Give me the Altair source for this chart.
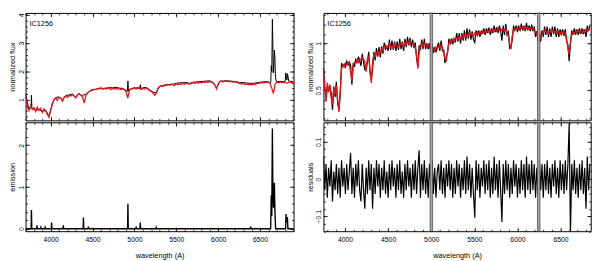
import altair as alt
import pandas as pd

FONT = "Liberation Sans Narrow, Liberation Sans, Arial, sans-serif"
galaxy = "IC1256"

# ---------------- left panels (observed frame) ----------------
left_wave = list(range(3700, 6901, 20))
left_model = [
    1.15, 0.75, 0.62, 0.78, 0.66, 0.72, 0.58, 0.74, 0.62, 0.70,
    0.55, 0.68, 0.60, 0.48, 0.38, 0.62, 0.85, 1.02, 1.05, 0.98,
    1.08, 1.06, 0.95, 1.10, 1.12, 1.08, 1.15, 1.13, 1.18, 1.12,
    1.06, 1.18, 1.20, 1.16, 1.10, 0.88, 1.15, 1.25, 1.28, 1.33,
    1.33, 1.37, 1.35, 1.40, 1.38, 1.42, 1.37, 1.40, 1.38, 1.41,
    1.40, 1.36, 1.40, 1.38, 1.41, 1.37, 1.39, 1.36, 1.38, 1.35,
    1.30, 1.06, 1.32, 1.40, 1.38, 1.42, 1.38, 1.41, 1.39, 1.36,
    1.40, 1.38, 1.42, 1.37, 1.32, 1.30, 1.24, 1.16, 1.22, 1.40,
    1.46, 1.50, 1.47, 1.52, 1.50, 1.54, 1.51, 1.55, 1.52, 1.50,
    1.56, 1.53, 1.57, 1.54, 1.58, 1.55, 1.59, 1.56, 1.55, 1.58,
    1.60, 1.57, 1.61, 1.58, 1.62, 1.60, 1.63, 1.61, 1.64, 1.62,
    1.65, 1.62, 1.58, 1.52, 1.38, 1.55, 1.64, 1.66, 1.63, 1.67,
    1.64, 1.66, 1.63, 1.65, 1.62, 1.64, 1.61, 1.60, 1.57, 1.55,
    1.58, 1.54, 1.56, 1.53, 1.55, 1.52, 1.56, 1.54, 1.57, 1.58,
    1.60, 1.59, 1.61, 1.60, 1.62, 1.61, 1.58, 1.40, 1.22, 1.55,
    1.62, 1.60, 1.63, 1.61, 1.62, 1.60, 1.58, 1.61, 1.63, 1.60,
    1.62,
]

obs_wave = [
    3700, 3740, 3765, 3770, 3775, 3780, 3820, 3860, 3900, 3940,
    3980, 4020, 4060, 4100, 4140, 4180, 4220, 4260, 4300, 4340,
    4380, 4391, 4420, 4460, 4500, 4540, 4580, 4620, 4660, 4700,
    4740, 4780, 4820, 4860, 4900, 4916, 4922, 4928, 4940, 4980,
    5020, 5060, 5065, 5070, 5075, 5100, 5140, 5180, 5220, 5260,
    5300, 5340, 5380, 5420, 5460, 5500, 5540, 5580, 5620, 5660,
    5700, 5740, 5780, 5820, 5860, 5900, 5940, 5980, 6020, 6060,
    6100, 6140, 6180, 6220, 6260, 6300, 6340, 6380, 6420, 6460,
    6500, 6540, 6580, 6620, 6628, 6634, 6640, 6647, 6652, 6658,
    6664, 6671, 6677, 6684, 6692, 6700, 6740, 6780, 6800, 6807,
    6814, 6820, 6828, 6835, 6842, 6860, 6900,
]
obs_flux = [
    1.20, 0.66, 0.72, 1.16, 0.72, 0.70, 0.62, 0.66, 0.58, 0.63,
    0.42, 0.88, 1.08, 1.10, 0.98, 1.15, 1.17, 1.20, 1.09, 1.22,
    1.13, 1.18, 1.17, 1.30, 1.36, 1.37, 1.41, 1.40, 1.41, 1.43,
    1.42, 1.44, 1.41, 1.40, 1.33, 1.30, 1.66, 1.30, 1.35, 1.41,
    1.42, 1.42, 1.40, 1.53, 1.40, 1.42, 1.44, 1.35, 1.27, 1.25,
    1.48, 1.50, 1.53, 1.54, 1.55, 1.58, 1.60, 1.60, 1.61, 1.58,
    1.62, 1.63, 1.64, 1.65, 1.66, 1.67, 1.61, 1.42, 1.66, 1.66,
    1.67, 1.66, 1.65, 1.64, 1.60, 1.61, 1.59, 1.58, 1.58, 1.60,
    1.62, 1.63, 1.64, 1.61, 1.62, 2.20, 2.00, 3.85, 3.10, 1.95,
    2.10, 2.75, 2.50, 1.80, 1.66, 1.64, 1.65, 1.64, 1.65, 1.95,
    1.85, 1.70, 1.92, 1.80, 1.66, 1.65, 1.64,
]

emis_wave = [
    3700, 3766, 3770, 3774, 3832, 3836, 3840, 3879, 3883, 3887,
    3930, 3934, 3938, 4007, 4011, 4015, 4147, 4151, 4155, 4387,
    4391, 4395, 4446, 4450, 4454, 4918, 4922, 4926, 5017, 5021,
    5025, 5066, 5070, 5074, 5256, 5260, 5264, 6385, 6389, 6393,
    6626, 6634, 6640, 6647, 6653, 6660, 6671, 6678, 6686, 6805,
    6810, 6816, 6826, 6833, 6900,
]
emis_flux = [
    0.0, 0.0, 0.45, 0.0, 0.0, 0.08, 0.0, 0.0, 0.03, 0.0,
    0.0, 0.03, 0.0, 0.0, 0.15, 0.0, 0.0, 0.08, 0.0, 0.0,
    0.27, 0.0, 0.0, 0.05, 0.0, 0.0, 0.60, 0.0, 0.0, 0.05,
    0.0, 0.0, 0.15, 0.0, 0.0, 0.03, 0.0, 0.0, 0.05, 0.0,
    0.0, 0.80, 0.30, 2.40, 0.90, 0.50, 1.10, 0.40, 0.0, 0.0,
    0.35, 0.15, 0.28, 0.0, 0.0,
]

# ---------------- right panels (rest frame) ----------------
right_wave = list(range(3750, 6841, 15))
right_model = [
    0.68, 0.55, 0.38, 0.58, 0.48, 0.56, 0.42, 0.35, 0.52, 0.46,
    0.55, 0.40, 0.27, 0.50, 0.74, 0.77, 0.75, 0.79, 0.77, 0.80,
    0.78, 0.70, 0.60, 0.76, 0.80, 0.79, 0.82, 0.80, 0.84, 0.82,
    0.85, 0.83, 0.80, 0.70, 0.84, 0.86, 0.72, 0.58, 0.80, 0.88,
    0.86, 0.90, 0.88, 0.92, 0.90, 0.94, 0.92, 0.96, 0.98, 0.95,
    0.97, 1.00, 0.96, 0.98, 0.95, 0.99, 0.97, 0.98, 0.96, 1.00,
    0.98, 1.00, 0.97, 1.01, 0.99, 1.02, 1.00, 1.03, 1.01, 1.00,
    0.98, 0.96, 0.88, 0.73, 0.90, 0.98, 1.00, 0.97, 1.00, 0.98,
    0.97, 0.99, 0.95, 0.96, 0.93, 0.95, 0.92, 0.96, 0.94, 0.97,
    0.95, 0.98, 0.96, 0.90, 0.84, 0.82, 0.92, 1.00, 1.03, 1.01,
    1.04, 1.02, 1.05, 1.06, 1.04, 1.07, 1.05, 1.08, 1.06, 1.09,
    1.07, 1.10, 1.08, 1.11, 1.09, 1.10, 1.08, 1.11, 1.09, 1.12,
    1.10, 1.12, 1.10, 1.13, 1.11, 1.13, 1.12, 1.14, 1.12, 1.14,
    1.12, 1.15, 1.13, 1.15, 1.13, 1.16, 1.14, 1.16, 1.14, 1.15,
    1.13, 1.16, 1.12, 1.08, 1.00, 0.94, 1.08, 1.14, 1.16, 1.15,
    1.17, 1.15, 1.18, 1.16, 1.17, 1.15, 1.18, 1.16, 1.17, 1.15,
    1.17, 1.15, 1.16, 1.14, 1.12, 1.10, 1.06, 1.08, 1.05, 1.10,
    1.12, 1.14, 1.12, 1.13, 1.11, 1.13, 1.12, 1.14, 1.12, 1.13,
    1.11, 1.13, 1.12, 1.10, 1.13, 1.11, 1.12, 1.10, 1.05, 0.95,
    0.88, 1.02, 1.10, 1.12, 1.11, 1.13, 1.12, 1.14, 1.12, 1.13,
    1.11, 1.14, 1.12, 1.15, 1.13, 1.16, 1.15,
]
right_obs = [
    0.74, 0.52, 0.42, 0.53, 0.51, 0.54, 0.47, 0.29, 0.54, 0.43,
    0.59, 0.36, 0.30, 0.45, 0.79, 0.75, 0.78, 0.75, 0.81, 0.77,
    0.80, 0.77, 0.56, 0.79, 0.75, 0.83, 0.80, 0.85, 0.81, 0.76,
    0.89, 0.80, 0.72, 0.73, 0.80, 0.91, 0.69, 0.62, 0.72, 0.91,
    0.82, 0.95, 0.86, 0.96, 0.85, 0.97, 0.89, 1.01, 0.94, 0.97,
    0.92, 1.04, 0.93, 1.03, 0.93, 1.02, 0.92, 1.02, 0.93, 1.05,
    0.94, 1.02, 0.92, 1.05, 0.96, 1.07, 0.98, 1.06, 0.96, 1.04,
    0.95, 1.01, 0.84, 0.76, 0.98, 0.93, 1.04, 0.94, 1.05, 0.94,
    1.00, 0.94, 0.99, 0.94, 0.98, 0.91, 0.95, 0.91, 0.96, 1.01,
    0.92, 1.03, 0.92, 0.93, 0.79, 0.86, 0.90, 1.05, 1.00, 1.05,
    0.99, 1.05, 1.01, 1.11, 1.02, 1.11, 1.00, 1.11, 1.03, 1.14,
    1.03, 1.16, 1.05, 1.15, 1.04, 1.13, 1.04, 1.01, 1.14, 1.09,
    1.14, 1.07, 1.13, 1.11, 1.16, 1.09, 1.16, 1.11, 1.17, 1.09,
    1.15, 1.11, 1.19, 1.12, 1.17, 1.11, 1.19, 1.13, 1.03, 1.19,
    1.09, 1.21, 1.09, 1.12, 0.95, 0.97, 1.04, 1.19, 1.14, 1.19,
    1.12, 1.18, 1.14, 1.21, 1.14, 1.19, 1.13, 1.22, 1.14, 1.19,
    1.13, 1.20, 1.13, 1.18, 1.07, 1.13, 1.02, 1.13, 1.02, 1.14,
    1.07, 1.18, 1.09, 1.18, 1.07, 1.16, 1.07, 1.18, 1.10, 1.18,
    1.07, 1.16, 1.07, 1.15, 1.10, 1.15, 1.08, 1.15, 1.02, 0.99,
    0.81, 1.00, 1.14, 1.09, 1.16, 1.09, 1.15, 1.09, 1.16, 1.10,
    1.16, 1.10, 1.15, 1.07, 1.19, 1.13, 1.19,
]
right_resid = [
    0.06, -0.03, 0.04, -0.05, 0.03, -0.02, 0.05, -0.06, 0.02, -0.03,
    0.04, -0.04, 0.03, -0.05, 0.05, -0.02, 0.03, -0.04, 0.04, -0.03,
    0.02, 0.07, -0.04, 0.03, -0.05, 0.04, -0.02, 0.05, -0.03, -0.06,
    0.04, -0.03, -0.08, 0.03, -0.04, 0.05, -0.03, 0.04, -0.08, 0.03,
    -0.04, 0.05, -0.02, 0.04, -0.05, 0.03, -0.03, 0.05, -0.04, 0.02,
    -0.05, 0.04, -0.03, 0.05, -0.02, 0.03, -0.05, 0.04, -0.03, 0.05,
    -0.04, 0.02, -0.05, 0.04, -0.03, 0.05, -0.02, 0.03, -0.05, 0.04,
    -0.03, 0.05, -0.04, 0.03, 0.077, -0.05, 0.04, -0.03, 0.05, -0.04,
    0.03, -0.05, 0.04, -0.02, 0.05, -0.04, 0.03, -0.05, 0.02, 0.04,
    -0.03, 0.05, -0.04, 0.03, -0.05, 0.04, -0.02, 0.05, -0.03, 0.04,
    -0.05, 0.03, -0.04, 0.05, -0.02, 0.04, -0.05, 0.03, -0.03, 0.05,
    -0.04, 0.06, -0.03, 0.04, -0.05, 0.03, -0.04, -0.104, 0.05, -0.03,
    0.04, -0.05, 0.03, -0.02, 0.05, -0.04, 0.04, -0.03, 0.05, -0.05,
    0.03, -0.04, 0.06, -0.03, 0.04, -0.05, 0.05, -0.03, -0.115, 0.04,
    -0.04, 0.05, -0.03, 0.04, -0.05, 0.03, -0.04, 0.05, -0.02, 0.04,
    -0.05, 0.03, -0.04, 0.05, -0.03, 0.04, -0.05, 0.06, -0.03, 0.04,
    -0.04, 0.05, -0.03, 0.04, -0.05, 0.03, -0.04, 0.05, -0.03, 0.04,
    -0.05, 0.04, -0.03, 0.05, -0.04, 0.03, -0.05, 0.04, -0.02, 0.05,
    -0.04, 0.03, -0.05, 0.05, -0.03, 0.04, -0.04, 0.05, -0.03, 0.04,
    0.15, -0.15, 0.04, -0.03, 0.05, -0.04, 0.03, -0.05, 0.04, -0.03,
    0.05, -0.04, 0.03, -0.08, 0.06, -0.03, 0.04,
]
mask_start = [4987, 6232]
mask_end = [5016, 6261]

# ---------------- tables ----------------
df_lmodel = pd.DataFrame({"wave": left_wave, "val": left_model})
df_lobs = pd.DataFrame({"wave": obs_wave, "val": obs_flux})
df_emis = pd.DataFrame({"wave": emis_wave, "val": emis_flux})
df_rmodel = pd.DataFrame({"wave": right_wave, "val": right_model})
df_robs = pd.DataFrame({"wave": right_wave, "val": right_obs})
df_rres = pd.DataFrame({"wave": right_wave, "val": right_resid})
df_mask = pd.DataFrame({"start": mask_start, "end": mask_end})
df_name = pd.DataFrame({"name": [galaxy]})

RED = "#e3141b"
MAJ, MIN = 4, 2
x_major = [4000, 4500, 5000, 5500, 6000, 6500]


def tick(size):
    return {"expr": str(-size)}


def x_axis(orient, vals, size, labels):
    if labels:
        return alt.Axis(orient=orient, values=vals, tickSize=tick(size), labels=True,
                        format="d", labelPadding=size + 5, labelFlush=False,
                        labelOverlap=False, title="wavelength (A)", titlePadding=9)
    return alt.Axis(orient=orient, values=vals, tickSize=tick(size), labels=False, title=None)


def y_axis(orient, vals, size, labels, title="", fmt="d"):
    if labels:
        return alt.Axis(orient=orient, values=vals, tickSize=tick(size), labels=True,
                        format=fmt, labelAngle=270, labelAlign="center",
                        labelBaseline="bottom", labelPadding=size + 1.5,
                        labelFlush=False, labelOverlap=False, minExtent=0,
                        title=title, titlePadding=0.5)
    return alt.Axis(orient=orient, values=vals, tickSize=tick(size), labels=False,
                    title=None, minExtent=0)


def panel(lines, xdom, ydom, xmin, ymaj, ymin, ytitle, yfmt, xlabels, w, h, overlays=()):
    xsc = alt.Scale(domain=xdom, nice=False, zero=False)
    ysc = alt.Scale(domain=ydom, nice=False, zero=False)
    axis_sets = [
        (x_axis("bottom", x_major, MAJ, xlabels), y_axis("left", ymaj, MAJ, True, ytitle, yfmt)),
        (x_axis("bottom", xmin, MIN, False), y_axis("left", ymin, MIN, False)),
        (x_axis("top", x_major, MAJ, False), y_axis("right", ymaj, MAJ, False)),
        (x_axis("top", xmin, MIN, False), y_axis("right", ymin, MIN, False)),
    ]
    layers = []
    for i, (ax, ay) in enumerate(axis_sets):
        if i < len(lines):
            df, color, sw = lines[i]
            base = alt.Chart(df).mark_line(color=color, strokeWidth=sw, clip=True)
        else:
            base = alt.Chart(lines[0][0]).mark_line(opacity=0, clip=True)
        layers.append(base.encode(
            x=alt.X("wave:Q", scale=xsc, axis=ax),
            y=alt.Y("val:Q", scale=ysc, axis=ay),
        ))
    for ov in overlays:
        layers.append(ov(xsc))
    return alt.layer(*layers).resolve_axis(x="independent", y="independent").properties(width=w, height=h)


def mask_layer(xsc):
    return alt.Chart(df_mask).mark_rect(fill="#a6a6a6", stroke="#3a3a3a", strokeWidth=0.7).encode(
        x=alt.X("start:Q", scale=xsc, axis=None), x2="end:Q")


def name_layer(xsc):
    return alt.Chart(df_name).mark_text(align="left", baseline="middle", font=FONT,
                                        fontSize=7.5, color="black").encode(
        text="name:N", x=alt.value(4), y=alt.value(11))


lx_min = list(range(3700, 6901, 100))
rx_min = list(range(3800, 6801, 100))

LT = panel([(df_lobs, "black", 1.0), (df_lmodel, RED, 1.3)], [3700, 6900], [0.27, 4.07],
           lx_min, [1, 2, 3, 4], [round(0.4 + 0.2 * i, 1) for i in range(19)],
           "normalized flux", "d", False, 274.4, 110, overlays=[name_layer])
LB = panel([(df_emis, "black", 1.4)], [3700, 6900], [-0.06, 2.55],
           lx_min, [0, 1, 2], [round(0.2 * i, 1) for i in range(13)],
           "emission", "d", True, 274.4, 111.5)
RT = panel([(df_robs, "black", 1.2), (df_rmodel, RED, 1.4)], [3750, 6850], [0.18, 1.325],
           rx_min, [0.5, 1], [round(0.2 + 0.1 * i, 1) for i in range(12)],
           "normalized flux", "~g", False, 273.7, 110, overlays=[mask_layer, name_layer])
RB = panel([(df_rres, "black", 1.2)], [3750, 6850], [-0.14, 0.152],
           rx_min, [-0.1, 0, 0.1], [round(-0.14 + 0.02 * i, 2) for i in range(15)],
           "residuals", "~g", True, 273.7, 111.5, overlays=[mask_layer])

chart = alt.hconcat(
    alt.vconcat(LT, LB, spacing=0),
    alt.vconcat(RT, RB, spacing=0),
    spacing=11,
).properties(
    padding={"left": 0, "top": 1, "right": 0, "bottom": 0}
).configure_view(
    stroke="black", strokeWidth=1
).configure_axis(
    domain=False, grid=False, tickColor="black", tickWidth=0.8,
    labelFont=FONT, labelFontSize=7, labelColor="black",
    titleFont=FONT, titleFontSize=7.5, titleFontWeight="normal", titleColor="black",
)

chart.save("out.html", embed_options={"renderer": "svg", "actions": False})
